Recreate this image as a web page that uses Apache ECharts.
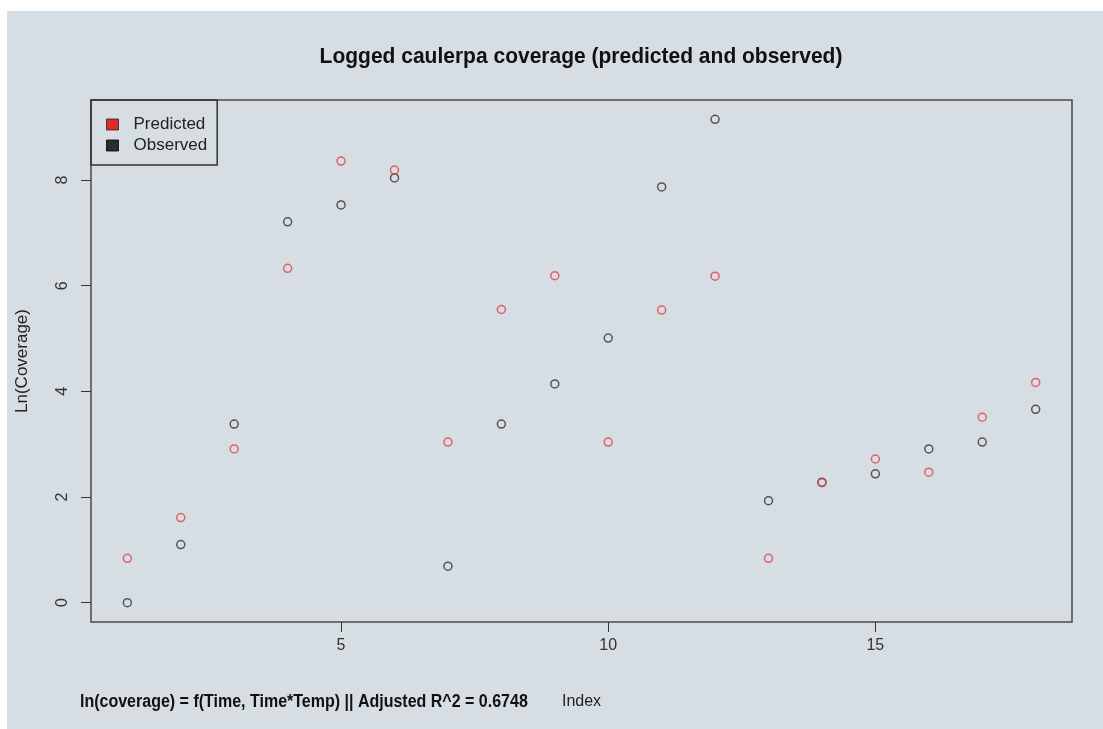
<!DOCTYPE html>
<html>
<head>
<meta charset="utf-8">
<script src="https://cdn.jsdelivr.net/npm/echarts@6/dist/echarts.min.js"></script>
<style>
  html, body { margin: 0; padding: 0; background: #fff; }
  #main { width: 1103px; height: 729px; }
</style>
</head>
<body>
<div id="main"></div>
<script>
// index 1..18 along x
var indexes = [1, 2, 3, 4, 5, 6, 7, 8, 9, 10, 11, 12, 13, 14, 15, 16, 17, 18];
var predicted = [0.84, 1.61, 2.91, 6.33, 8.36, 8.19, 3.04, 5.55, 6.19, 3.04, 5.54, 6.18, 0.84, 2.27, 2.72, 2.47, 3.51, 4.17];
var observed = [0.00, 1.10, 3.38, 7.21, 7.53, 8.04, 0.69, 3.38, 4.14, 5.01, 7.87, 9.15, 1.93, 2.28, 2.44, 2.91, 3.04, 3.66];
var xTicks = [5, 10, 15];
var yTicks = [0, 2, 4, 6, 8];

var chartDom = document.getElementById('main');
var myChart = echarts.init(chartDom);
var font = '"Liberation Sans", Arial, sans-serif';

function pairs(vals) {
  return indexes.map(function (x, i) { return [x, vals[i]]; });
}

var option = {
  animation: false,
  backgroundColor: '#ffffff',
  textStyle: { fontFamily: font },
  graphic: [
    {
      type: 'rect',
      z: -10,
      shape: { x: 7, y: 11, width: 1096, height: 718 },
      style: { fill: '#d6dde3' }
    },
    {
      type: 'text',
      x: 581, y: 57,
      scaleY: 1.08,
      style: {
        text: 'Logged caulerpa coverage (predicted and observed)',
        font: 'bold 21px ' + font,
        fill: '#111',
        textAlign: 'center',
        textVerticalAlign: 'middle'
      }
    },
    {
      type: 'text',
      x: 80, y: 702,
      scaleY: 1.15,
      style: {
        text: 'ln(coverage) = f(Time, Time*Temp) || Adjusted R^2 = 0.6748',
        font: 'bold 16px ' + font,
        fill: '#111',
        textAlign: 'left',
        textVerticalAlign: 'middle'
      }
    }
  ],
  legend: {
    orient: 'vertical',
    left: 91,
    top: 100,
    padding: [16, 10, 11, 15],
    itemGap: 4,
    itemWidth: 12,
    itemHeight: 11,
    borderColor: '#333',
    borderWidth: 1.5,
    textStyle: { fontSize: 17, color: '#222', padding: [0, 0, 0, 10] },
    data: [
      { name: 'Predicted', icon: 'rect', itemStyle: { color: '#e00000', borderColor: '#222', borderWidth: 1 } },
      { name: 'Observed', icon: 'rect', itemStyle: { color: '#000', borderColor: '#000', borderWidth: 1 } }
    ]
  },
  grid: {
    show: true,
    left: 91,
    top: 100,
    width: 981,
    height: 522,
    borderColor: '#4a4a4a',
    borderWidth: 1.5,
    backgroundColor: 'transparent'
  },
  xAxis: {
    type: 'value',
    min: 0.32,
    max: 18.68,
    name: 'Index',
    nameLocation: 'middle',
    nameGap: 72,
    nameTextStyle: { fontSize: 16, color: '#222' },
    axisLine: { show: false, onZero: false },
    splitLine: { show: false },
    axisTick: { show: true, length: 10, customValues: xTicks, lineStyle: { color: '#333', width: 1 } },
    axisLabel: { customValues: xTicks, fontSize: 16, color: '#333', margin: 16 }
  },
  yAxis: {
    type: 'value',
    min: -0.366,
    max: 9.516,
    name: 'Ln(Coverage)',
    nameLocation: 'middle',
    nameGap: 60,
    nameRotate: 90,
    nameTextStyle: { fontSize: 17, color: '#222' },
    axisLine: { show: false, onZero: false },
    splitLine: { show: false },
    axisTick: { show: true, length: 10, customValues: yTicks, lineStyle: { color: '#333', width: 1 } },
    axisLabel: { customValues: yTicks, fontSize: 16, color: '#333', rotate: 90, margin: 20 }
  },
  series: [
    {
      name: 'Observed',
      type: 'scatter',
      symbol: 'circle',
      symbolSize: 8,
      itemStyle: { color: 'transparent', borderColor: '#333', borderWidth: 1.5 },
      data: pairs(observed)
    },
    {
      name: 'Predicted',
      type: 'scatter',
      symbol: 'circle',
      symbolSize: 8,
      itemStyle: { color: 'transparent', borderColor: '#e0424c', borderWidth: 1.5 },
      data: pairs(predicted)
    }
  ]
};

option && myChart.setOption(option);
</script>
</body>
</html>
